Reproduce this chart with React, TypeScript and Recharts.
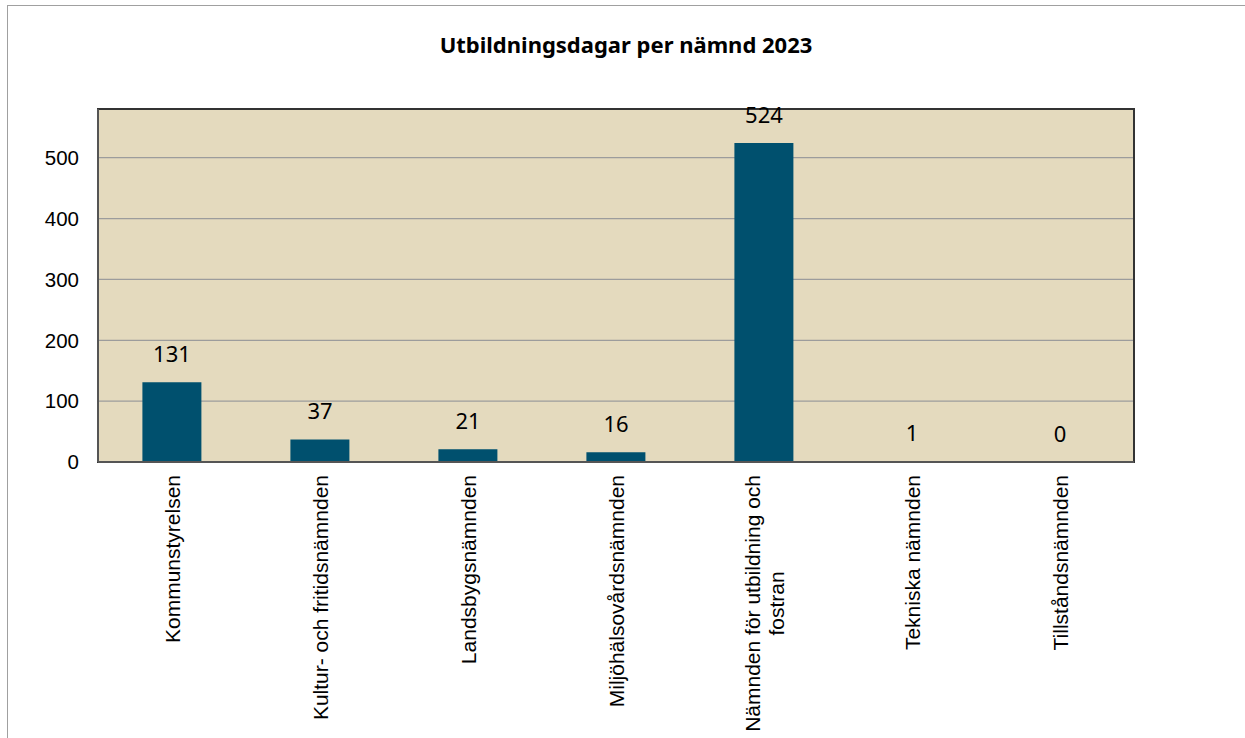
import React from 'react';
import { ComposedChart, Bar, Line, XAxis, YAxis, CartesianGrid, LabelList, ReferenceArea } from 'recharts';

const categories = [
    'Kommunstyrelsen',
    'Kultur- och fritidsnämnden',
    'Landsbygsnämnden',
    'Miljöhälsovårdsnämnden',
    'Nämnden för utbildning och fostran',
    'Tekniska nämnden',
    'Tillståndsnämnden',
];
const days = [131, 37, 21, 16, 524, 1, 0];
const yTicks = [0, 100, 200, 300, 400, 500];

const data = categories.map((name, i) => ({ name, days: days[i] }));

const TICK_FONT = '"Liberation Sans", Arial, sans-serif';
const TICK_SIZE = 21;
const MAX_LABEL_W = 265;

let ctx: CanvasRenderingContext2D | null = null;
const measure = (s: string) => {
    if (!ctx) ctx = document.createElement('canvas').getContext('2d');
    if (!ctx) return s.length * TICK_SIZE * 0.5;
    ctx.font = `${TICK_SIZE}px "Liberation Sans"`;
    return ctx.measureText(s).width;
};

// word wrap like the spreadsheet does for long category names
const wrap = (s: string) => {
    const words = s.split(' ');
    const lines: string[] = [];
    let cur = '';
    words.forEach((w) => {
        const next = cur ? cur + ' ' + w : w;
        if (cur && measure(next) > MAX_LABEL_W) {
            lines.push(cur);
            cur = w;
        } else {
            cur = next;
        }
    });
    if (cur) lines.push(cur);
    return lines;
};

const XTick = (props: any) => {
    const { x, y, payload } = props;
    const lines = wrap(String(payload.value));
    const maxW = Math.max(...lines.map(measure));
    const lh = 24;
    const top = y + 13;
    return (
        <g transform={`translate(${x},${top}) rotate(-90)`}>
            {lines.map((l, i) => (
                <text
                    key={i}
                    x={-maxW / 2}
                    y={(i - (lines.length - 1) / 2) * lh}
                    dy="0.36em"
                    textAnchor="middle"
                    fontFamily={TICK_FONT}
                    fontSize={TICK_SIZE}
                    fill="#000"
                >
                    {l}
                </text>
            ))}
        </g>
    );
};

export default function App() {
    return (
        <div style={{ position: 'absolute', left: 0, top: 0, width: 1245, height: 738, overflow: 'hidden', background: '#fff' }}>
            <div style={{ position: 'absolute', left: 7, top: 5, width: 1260, height: 760, border: '1px solid #a0a0a0' }} />
            <div
                style={{
                    position: 'absolute',
                    left: 7,
                    top: 28,
                    width: 1238,
                    textAlign: 'center',
                    fontFamily: '"Noto Sans", sans-serif',
                    fontWeight: 700,
                    fontSize: 22,
                    lineHeight: '32px',
                    color: '#000',
                }}
            >
                Utbildningsdagar per nämnd 2023
            </div>
            <div style={{ position: 'absolute', left: 0, top: 0 }}>
                <ComposedChart
                    width={1245}
                    height={738}
                    data={data}
                    margin={{ top: 109, right: 111, bottom: 0, left: 38 }}
                    barCategoryGap="30%"
                >
                    <CartesianGrid vertical={false} fill="#E4DABE" fillOpacity={1} stroke="#9c9c9c" strokeWidth={1.3} />
                    <XAxis
                        dataKey="name"
                        height={276}
                        interval={0}
                        tickLine={false}
                        tickSize={0}
                        tickMargin={0}
                        axisLine={{ stroke: '#555', strokeWidth: 2 }}
                        tick={<XTick />}
                    />
                    <YAxis
                        width={60}
                        domain={[0, 580]}
                        ticks={yTicks}
                        tickLine={false}
                        tickSize={17}
                        tickMargin={2}
                        axisLine={{ stroke: '#555', strokeWidth: 2 }}
                        tick={{ fontFamily: TICK_FONT, fontSize: 20.5, fill: '#000' }}
                    />
                    <Bar dataKey="days" fill="#00506E" isAnimationActive={false} />
                    {/* invisible line only carries the value labels, so the 0 bar gets one too */}
                    <Line
                        dataKey="days"
                        stroke="none"
                        dot={false}
                        activeDot={false}
                        legendType="none"
                        isAnimationActive={false}
                    >
                        <LabelList
                            dataKey="days"
                            position="top"
                            offset={20}
                            style={{ fontFamily: '"Noto Sans", sans-serif', fontSize: 22, fill: '#000' }}
                        />
                    </Line>
                    <ReferenceArea y1={0} y2={580} fill="none" stroke="#333" strokeWidth={2} ifOverflow="visible" />
                </ComposedChart>
            </div>
        </div>
    );
}
